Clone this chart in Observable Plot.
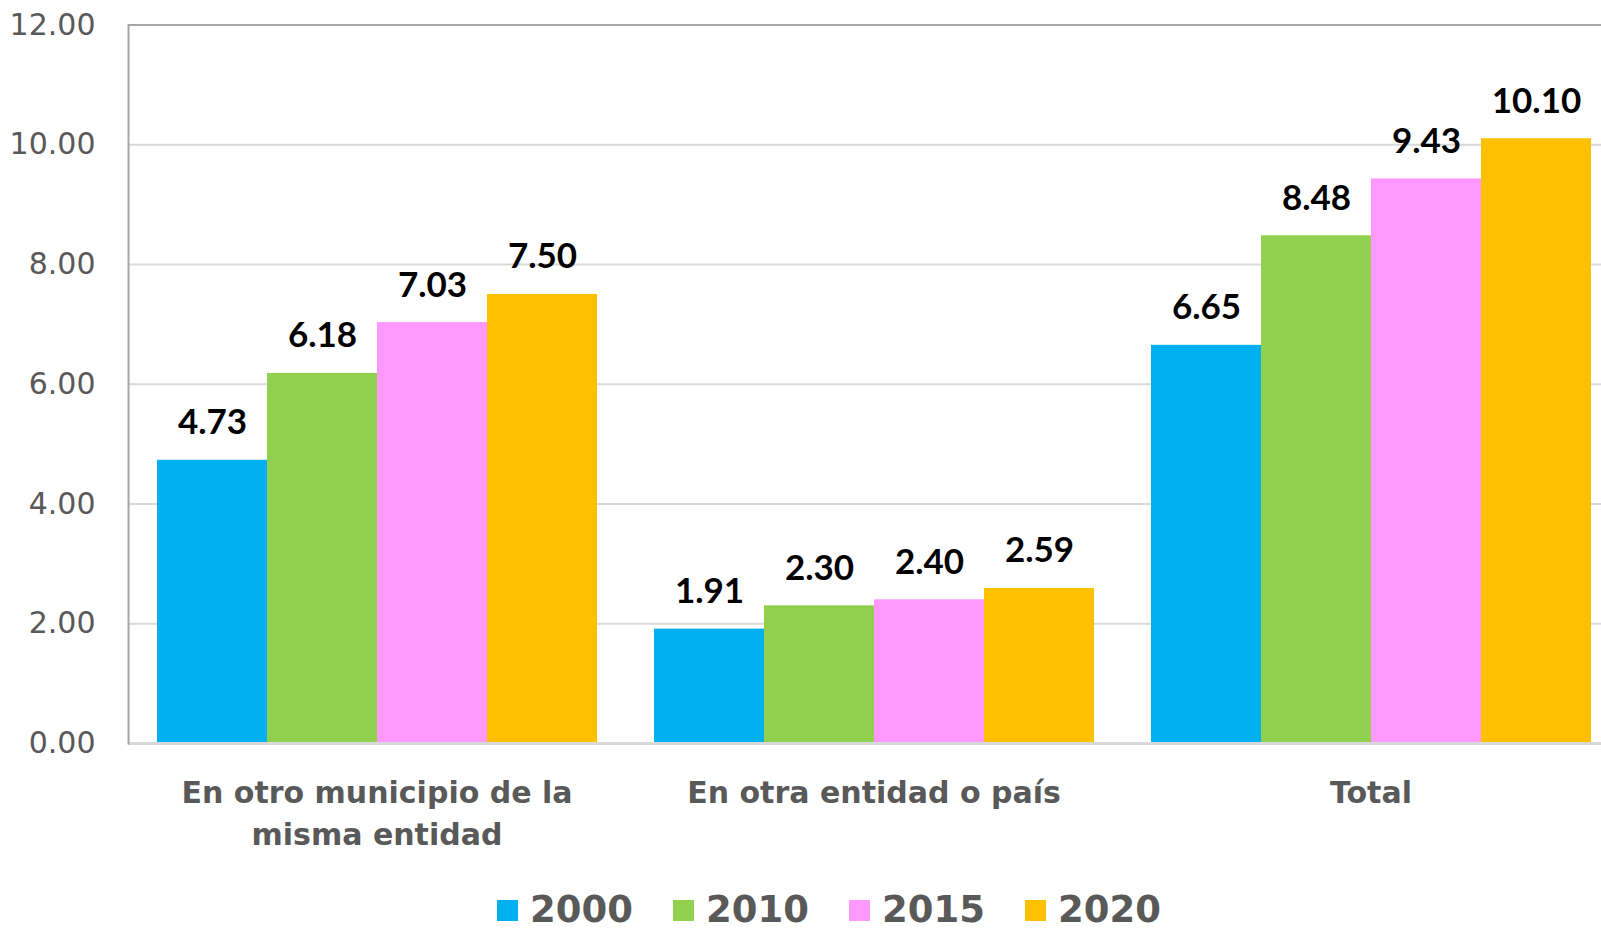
<!DOCTYPE html>
<html><head><meta charset="utf-8">
<script src="https://cdn.jsdelivr.net/npm/d3@7"></script>
<script src="https://cdn.jsdelivr.net/npm/@observablehq/plot@0.6"></script>
<style>
html,body{margin:0;padding:0;background:#fff;overflow:hidden;width:1601px;height:930px}
#chart{position:absolute;left:0;top:0}
#legend{position:absolute;left:497px;top:888px;height:44px;display:flex;align-items:center;gap:40px;font-family:"DejaVu Sans";font-weight:bold;font-size:37px;line-height:1.1;color:#595959}
.item{display:flex;align-items:center;gap:12px}
.sw{width:21px;height:21px}
</style></head><body>
<div id="chart"></div><div id="legend"></div>
<script>
const categories = ["En otro municipio de la\nmisma entidad", "En otra entidad o país", "Total"];
const years = ["2000", "2010", "2015", "2020"];
const v2000 = [4.73, 1.91, 6.65];
const v2010 = [6.18, 2.30, 8.48];
const v2015 = [7.03, 2.40, 9.43];
const v2020 = [7.50, 2.59, 10.10];
const colors = ["#00B0F0", "#92D050", "#FF99FF", "#FFC000"];
const yTicks = [0, 2, 4, 6, 8, 10, 12];

const series = [v2000, v2010, v2015, v2020];
const rows = [];
years.forEach((yr, j) => categories.forEach((c, i) => rows.push({cat: c, year: yr, value: series[j][i]})));

const plot = Plot.plot({
  width: 1601, height: 860,
  marginLeft: 128, marginRight: -18, marginTop: 24.5, marginBottom: 117,
  style: {fontFamily: "DejaVu Sans", fontSize: "30px", color: "#595959", background: "transparent", overflow: "visible", maxWidth: "none"},
  fx: {domain: categories, padding: 0, axis: null},
  x: {domain: years, paddingInner: 0, paddingOuter: 0.249, axis: null},
  y: {domain: [0, 12], ticks: yTicks, tickFormat: d => d.toFixed(2), tickSize: 0, tickPadding: 33, label: null},
  color: {domain: years, range: colors},
  marks: [
    Plot.ruleY(yTicks.filter(t => t > 0 && t < 12), {stroke: "#d9d9d9", strokeWidth: 2}),
    Plot.barY(rows, {fx: "cat", x: "year", y: "value", fill: "year"}),
    Plot.ruleY([0], {stroke: "#d9d9d9", strokeWidth: 3}),
    Plot.ruleY([12], {stroke: "#a6a6a6", strokeWidth: 2}),
    Plot.frame({anchor: "left", stroke: "#a6a6a6", strokeWidth: 2, facet: "super"}),
    Plot.text(rows, {fx: "cat", x: "year", y: "value", text: d => d.value.toFixed(2), lineAnchor: "bottom", dy: -26, fill: "black", fontWeight: "bold", fontSize: 35, fontFamily: "Lato"}),
    Plot.text(categories, {fx: d => d, text: d => d, frameAnchor: "bottom", lineAnchor: "top", dy: 30, lineHeight: 1.4, fontWeight: "bold", fontFamily: "DejaVu Sans", fontSize: 30, fill: "#595959"})
  ]
});
document.getElementById("chart").appendChild(plot);

const legend = document.getElementById("legend");
years.forEach((yr, j) => {
  const item = document.createElement("div");
  item.className = "item";
  const sw = document.createElement("div");
  sw.className = "sw";
  sw.style.background = colors[j];
  const t = document.createElement("span");
  t.textContent = yr;
  item.appendChild(sw); item.appendChild(t);
  legend.appendChild(item);
});
</script>
</body></html>
